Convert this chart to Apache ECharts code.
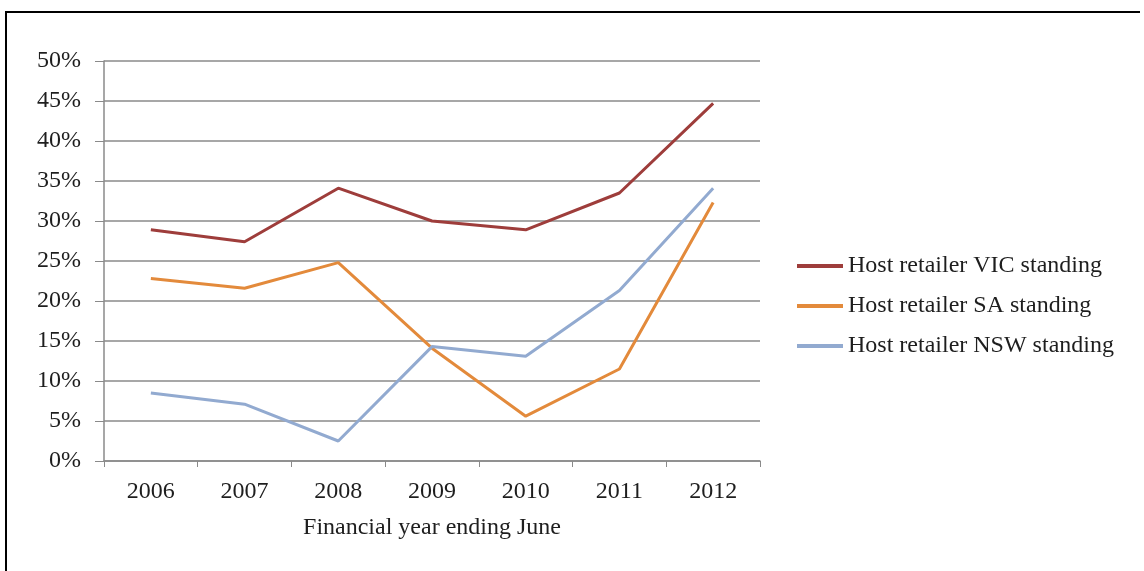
<!DOCTYPE html>
<html>
<head>
<meta charset="utf-8">
<script src="https://cdn.jsdelivr.net/npm/echarts@6/dist/echarts.min.js"></script>
<style>
  html, body { margin: 0; padding: 0; background: #fff; }
  #frame {
    position: absolute; left: 5px; top: 11px; width: 1133px; height: 570px;
    border-left: 2px solid #000; border-top: 2px solid #000;
  }
  #chart { position: absolute; left: 0; top: 0; width: 1144px; height: 571px; }
</style>
</head>
<body>
<div id="frame"></div>
<div id="chart"></div>
<script>
// 数据
const years = ["2006", "2007", "2008", "2009", "2010", "2011", "2012"];
const vic = [0.289, 0.274, 0.341, 0.300, 0.289, 0.335, 0.447];
const sa = [0.228, 0.216, 0.248, 0.141, 0.056, 0.115, 0.323];
const nsw = [0.085, 0.071, 0.025, 0.143, 0.131, 0.213, 0.341];
const seriesNames = ["Host retailer VIC standing", "Host retailer SA standing", "Host retailer NSW standing"];
const yTicks = ["0%", "5%", "10%", "15%", "20%", "25%", "30%", "35%", "40%", "45%", "50%"];

const font = "'Liberation Serif', serif";
const gray = "#8a8a8a";

const mychart = echarts.init(document.getElementById("chart"));
mychart.setOption({
  animation: false,
  color: ["#9e3d3b", "#e38a3b", "#92aad0"],
  legend: {
    orient: "vertical",
    left: 792,
    top: 249,
    itemWidth: 46,
    itemHeight: 24,
    itemGap: 16,
    data: seriesNames.map(function (n) {
      return { name: n, icon: "path://M0,0 L46,0 L46,4 L0,4 Z" };
    }),
    textStyle: { fontFamily: font, fontSize: 24, color: "#1e1e1e", lineHeight: 24 },
  },
  grid: { left: 104, right: 384, top: 61, bottom: 110 },
  xAxis: {
    type: "category",
    data: years,
    boundaryGap: true,
    name: "Financial year ending June",
    nameLocation: "middle",
    nameGap: 55,
    nameTextStyle: { fontFamily: font, fontSize: 24, color: "#1e1e1e" },
    axisLine: { lineStyle: { color: gray, width: 1.5 } },
    axisTick: { show: true, length: 6, interval: 0, lineStyle: { color: gray } },
    axisLabel: { fontFamily: font, fontSize: 24, color: "#1e1e1e", margin: 19, interval: 0 },
  },
  yAxis: {
    type: "value",
    min: 0,
    max: 0.5,
    interval: 0.05,
    axisLine: { show: true, lineStyle: { color: gray, width: 1.5 } },
    axisTick: { show: true, length: 9, lineStyle: { color: gray } },
    axisLabel: {
      fontFamily: font, fontSize: 24, color: "#1e1e1e", margin: 23,
      formatter: function (v) { return yTicks[Math.round(v / 0.05)]; },
    },
    splitLine: { lineStyle: { color: gray, width: 1.5 } },
  },
  series: [
    { name: seriesNames[0], type: "line", data: vic, showSymbol: false, symbol: "none", lineStyle: { width: 3 } },
    { name: seriesNames[1], type: "line", data: sa, showSymbol: false, symbol: "none", lineStyle: { width: 3 } },
    { name: seriesNames[2], type: "line", data: nsw, showSymbol: false, symbol: "none", lineStyle: { width: 3 } },
  ],
});
</script>
</body>
</html>
